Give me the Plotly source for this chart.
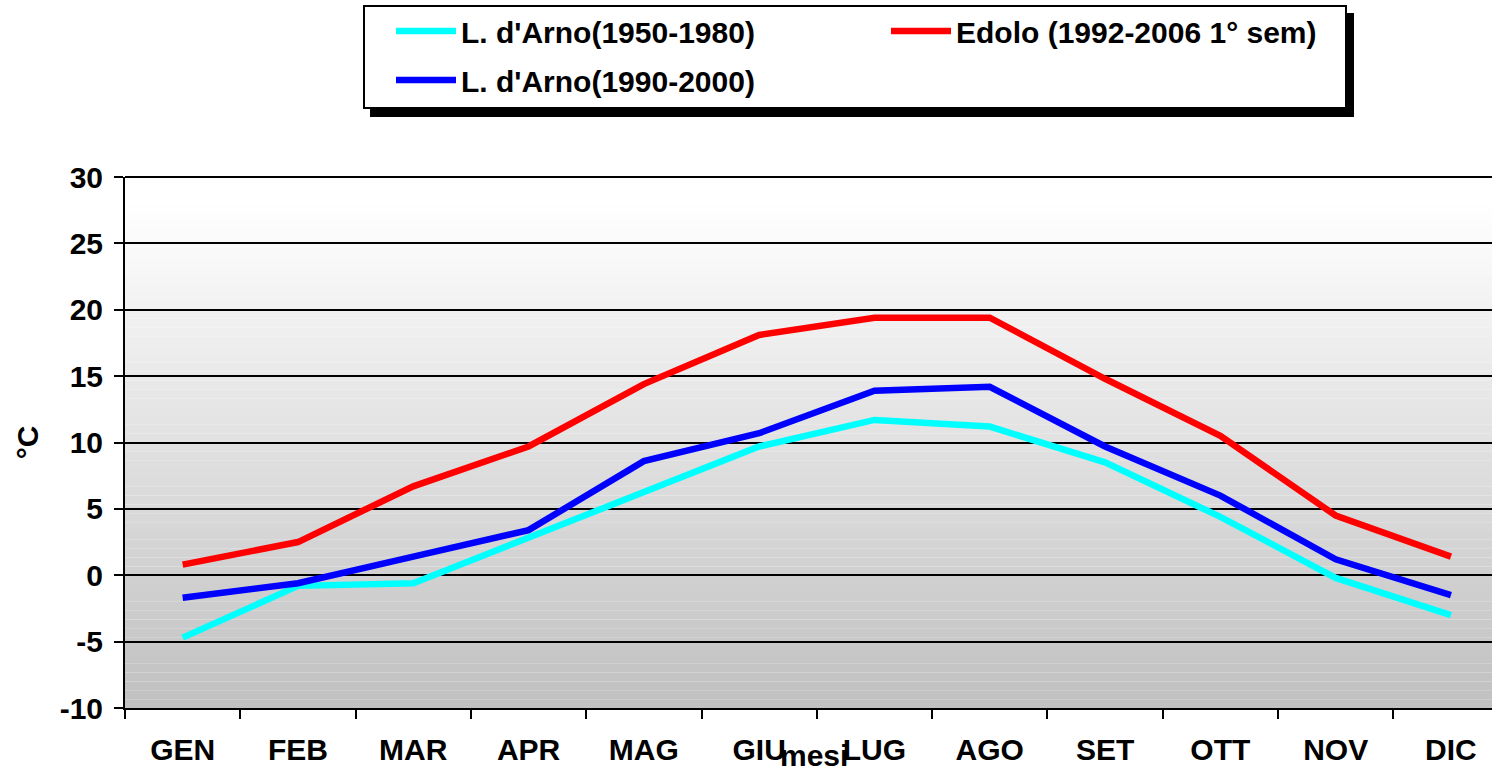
import plotly.graph_objects as go

months = ["GEN", "FEB", "MAR", "APR", "MAG", "GIU", "LUG", "AGO", "SET", "OTT", "NOV", "DIC"]
arno_1950_1980 = [-4.7, -0.8, -0.6, 2.8, 6.3, 9.7, 11.7, 11.2, 8.5, 4.4, -0.2, -3.0]
edolo_1992_2006 = [0.8, 2.5, 6.7, 9.7, 14.4, 18.1, 19.4, 19.4, 14.8, 10.5, 4.5, 1.4]
arno_1990_2000 = [-1.7, -0.6, 1.4, 3.4, 8.6, 10.7, 13.9, 14.2, 9.7, 6.0, 1.2, -1.5]

series_names = ["L. d'Arno(1950-1980)", "Edolo (1992-2006 1° sem)", "L. d'Arno(1990-2000)"]
series_colors = ["#00FFFF", "#FF0000", "#0000FF"]
series_legends = ["legend", "legend", "legend2"]
y_ticks = [-10, -5, 0, 5, 10, 15, 20, 25, 30]

W, H = 1492, 773
# plot area in reference-image pixels
PL, PT, PB = 125, 177, 708
ML, MT, MB, MR = PL, PT, H - PB, 0
PW, PH = W - ML - MR, H - MT - MB

def px2x(px):
    return (px - ML) / PW

def px2y(py):
    return (H - MB - py) / PH

FONT = "Liberation Sans, Arial, sans-serif"
FS = 30

fig = go.Figure()
for name, vals, col, lg in zip(series_names, [arno_1950_1980, edolo_1992_2006, arno_1990_2000],
                               series_colors, series_legends):
    fig.add_trace(go.Scatter(x=months, y=vals, mode="lines", name=name, legend=lg,
                             line=dict(color=col, width=6.5)))

shapes = []
# background gradient bands (white at top to grey at bottom)
nb = 60
for i in range(nb):
    t0 = i / nb
    t1 = (i + 1) / nb
    tm = (t0 + t1) / 2
    g = int(round(192 + (255 - 192) * min(1.0, tm * 1.05)))
    shapes.append(dict(type="rect", xref="paper", yref="paper", x0=0, x1=1, y0=t0, y1=t1,
                       fillcolor=f"rgb({g},{g},{g})", line=dict(width=0), layer="below"))

# top gridline at the upper limit of the axis
shapes.append(dict(type="line", xref="paper", yref="paper", x0=0, x1=1, y0=1, y1=1,
                   line=dict(color="black", width=2), layer="below"))

# legend shadow and box
shapes.append(dict(type="rect", xref="paper", yref="paper",
                   x0=px2x(370), x1=px2x(1354), y0=px2y(117), y1=px2y(13),
                   fillcolor="black", line=dict(width=0), layer="above"))
shapes.append(dict(type="rect", xref="paper", yref="paper",
                   x0=px2x(364), x1=px2x(1346), y0=px2y(108), y1=px2y(6),
                   fillcolor="white", line=dict(color="black", width=2), layer="above"))

legend_common = dict(orientation="h", xanchor="left", yanchor="top",
                     bgcolor="rgba(0,0,0,0)", borderwidth=0,
                     font=dict(family=FONT, size=FS, color="black", weight="bold"),
                     itemwidth=60, entrywidth=420, entrywidthmode="pixels",
                     traceorder="normal")

fig.update_layout(
    width=W, height=H,
    margin=dict(l=ML, r=MR, t=MT, b=MB),
    paper_bgcolor="white",
    plot_bgcolor="rgba(0,0,0,0)",
    font=dict(family=FONT, size=FS, color="black", weight="bold"),
    shapes=shapes,
    showlegend=True,
    legend=dict(x=px2x(391), y=px2y(5), **legend_common),
    legend2=dict(x=px2x(391), y=px2y(54), **legend_common),
    annotations=[dict(text="mesi", xref="paper", yref="paper", x=px2x(814), y=px2y(774),
                      xanchor="center", yanchor="bottom", showarrow=False,
                      font=dict(family=FONT, size=FS, color="black", weight="bold"))],
)

fig.update_xaxes(type="category", categoryorder="array", categoryarray=months,
                 range=[-0.5, 11.356], showgrid=False, zeroline=False,
                 showline=True, linecolor="black", linewidth=2,
                 ticks="outside", tickson="boundaries", ticklen=9, tickwidth=2, tickcolor="black",
                 ticklabelstandoff=14,
                 tickfont=dict(family=FONT, size=FS, color="black", weight="bold"))

fig.update_yaxes(range=[-10, 30], tickvals=y_ticks, ticktext=[str(v) for v in y_ticks],
                 showgrid=True, gridcolor="black", gridwidth=2, zeroline=False,
                 showline=True, linecolor="black", linewidth=2,
                 ticks="outside", ticklen=9, tickwidth=2, tickcolor="black",
                 ticklabelstandoff=5,
                 tickfont=dict(family=FONT, size=FS, color="black", weight="bold"),
                 title=dict(text="°C", standoff=12,
                            font=dict(family=FONT, size=FS, color="black", weight="bold")),
                 automargin=False)

fig.write_html("out.html", config={"displayModeBar": False},
               post_script="document.body.style.margin='0px';document.body.style.overflow='hidden';")
